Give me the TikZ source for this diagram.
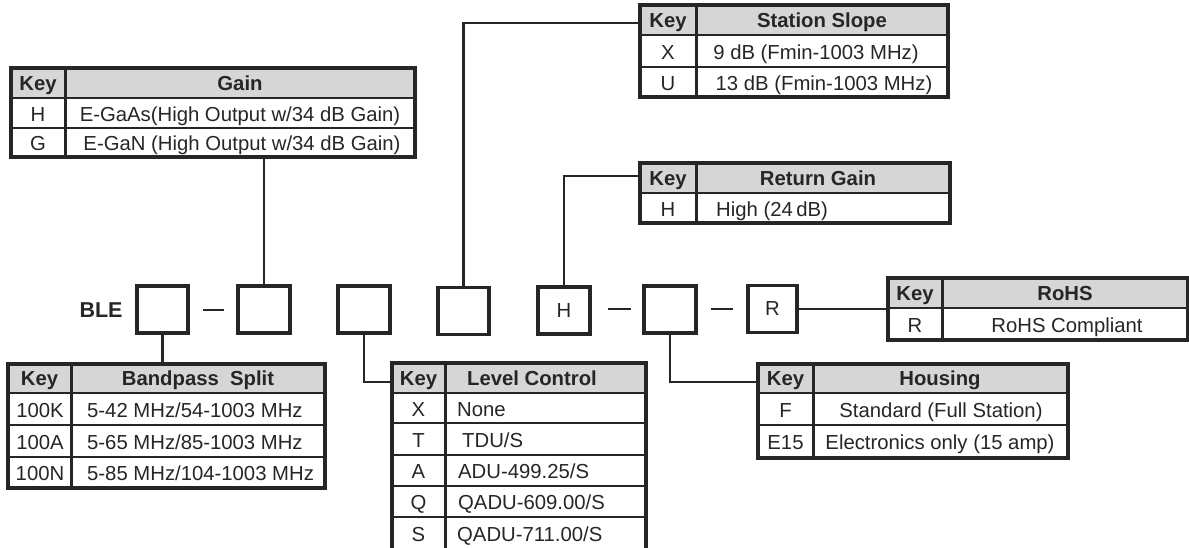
\documentclass[tikz,border=0pt]{standalone}
\usepackage{fontspec}
\setmainfont{Liberation Sans}
\definecolor{ink}{HTML}{262626}
\definecolor{hdrgray}{HTML}{D6D6D6}
\tikzset{
  txt/.style={inner sep=0pt, text=ink, text height=14.6pt, text depth=0pt, font=\fontsize{20.3}{24}\selectfont},
  hdtxt/.style={txt, font=\fontsize{20.3}{24}\selectfont\bfseries},
  keyline/.style={draw=ink, line width=3pt},
  rowline/.style={draw=ink, line width=2.6pt},
  outerline/.style={draw=ink, line width=3.2pt},
  slot/.style={draw=ink, line width=3.2pt, minimum width=51pt, minimum height=47pt, inner sep=0pt, text=ink, font=\fontsize{20.3}{24}\selectfont},
  conn/.style={draw=ink, line width=2.8pt},
  dashline/.style={draw=ink, line width=2.6pt}
}
\newcommand\mytab[7]{%
  \node[inner sep=0pt, outer sep=0pt, minimum width={#4-#2}, minimum height={#5-#3}, anchor=north west] (#1) at (#2,#3) {};
  \fill[hdrgray] (#2,#3) rectangle (#4,#7);
  \draw[keyline] (#6,#3) -- (#6,#5);
  \draw[rowline] (#2,#7) -- (#4,#7);
}
\newcommand\tabborder[1]{\draw[outerline] (#1.north west) rectangle (#1.south east);}
\begin{document}
\begin{tikzpicture}[x=1pt,y=-1pt]
\useasboundingbox (0,0) rectangle (1189,548);
\fill[white] (0,0) rectangle (1189,548);

% ---------- Gain ----------
\mytab{gain}{11}{68}{415}{157}{65}{98}
\draw[rowline] (11,128) -- (415,128);
\tabborder{gain}
\node[hdtxt] (gainK) at (38,83) {Key};
\node[hdtxt] (gainT) at (240,83) {Gain};
\node[txt] (gainH) at (38,114) {H};
\node[txt] (gainHt) at (240,114) {E-GaAs(High Output w/34 dB Gain)};
\node[txt] (gainG) at (38,143) {G};
\node[txt] (gainGt) at (242,143) {E-GaN (High Output w/34 dB Gain)};

% ---------- Station Slope ----------
\mytab{ss}{640}{5}{948}{97}{696}{35}
\draw[rowline] (640,67) -- (948,67);
\tabborder{ss}
\node[hdtxt] (ssK) at (668,20) {Key};
\node[hdtxt] (ssT) at (822,20) {Station Slope};
\node[txt] (ssX) at (668,52) {X};
\node[txt] (ssXt) at (816,52) {9 dB (Fmin-1003 MHz)};
\node[txt] (ssU) at (668,83) {U};
\node[txt] (ssUt) at (824,83) {13 dB (Fmin-1003 MHz)};

% ---------- Return Gain ----------
\mytab{rg}{640}{163}{950}{223}{696}{193}
\tabborder{rg}
\node[hdtxt] (rgK) at (668,178) {Key};
\node[hdtxt] (rgT) at (818,178) {Return Gain};
\node[txt] (rgH) at (668,209) {H};
\node[txt, anchor=west] (rgHt) at (716,209) {High (24\,dB)};

% ---------- RoHS ----------
\mytab{rohs}{888}{278}{1188}{340}{942}{308}
\tabborder{rohs}
\node[hdtxt] (rohsK) at (915,293) {Key};
\node[hdtxt] (rohsT) at (1065,293) {RoHS};
\node[txt] (rohsR) at (915,325) {R};
\node[txt] (rohsRt) at (1067,325) {RoHS Compliant};

% ---------- Bandpass Split ----------
\mytab{bp}{8}{364}{325}{488}{71}{393}
\foreach \yy in {425,457} \draw[rowline] (8,\yy) -- (325,\yy);
\tabborder{bp}
\node[hdtxt] (bpK) at (39.5,378.5) {Key};
\node[hdtxt] (bpT) at (198,378.5) {Bandpass\ \ Split};
\node[txt] (bpK1) at (40,410) {100K};
\node[txt, anchor=west] (bpT1) at (87,410) {5-42 MHz/54-1003 MHz};
\node[txt] (bpK2) at (40,442) {100A};
\node[txt, anchor=west] (bpT2) at (87,442) {5-65 MHz/85-1003 MHz};
\node[txt] (bpK3) at (40,473) {100N};
\node[txt, anchor=west] (bpT3) at (87,473) {5-85 MHz/104-1003 MHz};

% ---------- Level Control ----------
\mytab{lc}{392}{363}{646}{553}{445}{393}
\foreach \yy in {423,455,486,517} \draw[rowline] (392,\yy) -- (646,\yy);
\tabborder{lc}
\node[hdtxt] (lcK) at (418.5,378) {Key};
\node[hdtxt] (lcT) at (532,378) {Level Control};
\node[txt] (lcX) at (418.5,409) {X};
\node[txt, anchor=west] (lcXt) at (457,409) {None};
\node[txt] (lcT1) at (418.5,440) {T};
\node[txt, anchor=west] (lcTt) at (462,440) {TDU/S};
\node[txt] (lcA) at (418.5,471) {A};
\node[txt, anchor=west] (lcAt) at (458,471) {ADU-499.25/S};
\node[txt] (lcQ) at (418.5,502) {Q};
\node[txt, anchor=west] (lcQt) at (458,502) {QADU-609.00/S};
\node[txt] (lcS) at (418.5,534) {S};
\node[txt, anchor=west] (lcSt) at (457,534) {QADU-711.00/S};

% ---------- Housing ----------
\mytab{hs}{758}{364}{1068}{458}{813}{393}
\draw[rowline] (758,425) -- (1068,425);
\tabborder{hs}
\node[hdtxt] (hsK) at (785.5,378.5) {Key};
\node[hdtxt] (hsT) at (940,378.5) {Housing};
\node[txt] (hsF) at (785.5,410) {F};
\node[txt] (hsFt) at (941,410) {Standard (Full Station)};
\node[txt] (hsE) at (785.5,442) {E15};
\node[txt] (hsEt) at (940,442) {Electronics only (15 amp)};

% ---------- Part number row ----------
\node[inner sep=0pt, text=ink, font=\fontsize{21.5}{24}\selectfont\bfseries] (ble) at (101,310) {BLE};
\node[slot] (s1) at (162.5,309.5) {};
\node[slot, minimum width=52pt] (s2) at (264,309.5) {};
\node[slot, minimum width=52pt] (s3) at (364,309.5) {};
\node[slot] (s4) at (463.5,311) {};
\node[slot, minimum width=52pt] (s5) at (564,310.5) {H};
\node[slot, minimum width=52pt] (s6) at (670,309.5) {};
\node[slot, minimum width=49pt] (s7) at (772.5,309) {R};

\draw[dashline] (203,310) -- (224,310);
\draw[dashline] (608,309) -- (631,309);
\draw[dashline] (711,309) -- (733,309);

% ---------- Connectors ----------
\draw[conn] (s1.south) -- (s1.south |- bp.north);
\draw[conn] (s2.north) -- (s2.north |- gain.south);
\draw[conn] (s3.south) |- ([yshift=-19pt]lc.north west);
\draw[conn] (s4.north) |- ([yshift=-18pt]ss.north west);
\draw[conn] (s5.north) |- ([yshift=-13pt]rg.north west);
\draw[conn] (s6.south) |- ([yshift=-18pt]hs.north west);
\draw[conn] (s7.east) -- (s7.east -| rohs.west);
\end{tikzpicture}
\end{document}
